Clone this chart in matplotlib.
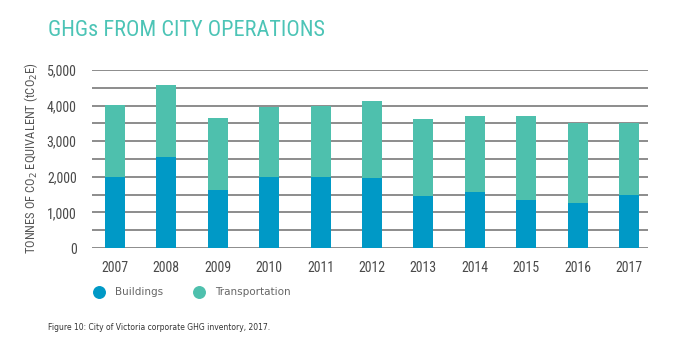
import matplotlib
matplotlib.use("Agg")
import matplotlib.pyplot as plt
from matplotlib.lines import Line2D
from matplotlib import font_manager

years = ["2007", "2008", "2009", "2010", "2011", "2012", "2013", "2014", "2015", "2016", "2017"]
buildings = [2000, 2560, 1630, 2000, 2000, 1970, 1460, 1570, 1350, 1260, 1490]
totals = [4020, 4580, 3650, 3960, 4000, 4130, 3620, 3710, 3710, 3510, 3510]
transportation = [t - b for t, b in zip(totals, buildings)]
yticks = [0, 1000, 2000, 3000, 4000, 5000]

c_build = "#0099c6"
c_trans = "#4ec0ad"

names = {f.name for f in font_manager.fontManager.ttflist}
cond = "Roboto"
for cand in ["Roboto Condensed", "Liberation Sans Narrow", "DejaVu Sans Condensed", "Open Sans Condensed"]:
    if cand in names:
        cond = cand
        break
is_cond = cond != "Roboto"

fig = plt.figure(figsize=(6.81, 3.46), dpi=100)
ax = fig.add_axes([0.135, 0.283, 0.8165, 0.515])

x = list(range(len(years)))
ax.bar(x, buildings, width=0.39, color=c_build, zorder=3)
ax.bar(x, transportation, bottom=buildings, width=0.39, color=c_trans, zorder=3)

ax.set_ylim(0, 5000)
ax.set_xlim(-0.447, 10.37)
for v in range(0, 5001, 500):
    ax.axhline(v, color="#6e6e6e", lw=1.1, zorder=1)

tfs = 10 if is_cond else 8.5
ax.set_yticks(yticks)
ax.set_yticklabels([f"{v:,}" for v in yticks], fontfamily=cond, fontsize=tfs, color="#4a4a4a")
ax.set_xticks(x)
ax.set_xticklabels(years, fontfamily=cond, fontsize=tfs, color="#4a4a4a")
ax.tick_params(axis="y", length=0, pad=11)
ax.tick_params(axis="x", length=0, pad=9)
for s in ax.spines.values():
    s.set_visible(False)

fig.text(31/681, 1-158/346, "TONNES OF CO$_2$ EQUIVALENT (tCO$_2$E)", rotation=90, ha="center", va="center",
         fontfamily=cond, fontsize=(9 if is_cond else 7.3), color="#555555")

fig.text(48/681, 1-31/346, "GHGs FROM CITY OPERATIONS", fontfamily=cond, fontsize=(16 if is_cond else 13.5),
         color="#4cc4b6", ha="left", va="center")

ly = 1-292/346
fig.add_artist(Line2D([99/681], [ly], marker="o", markersize=8.3, color=c_build, transform=fig.transFigure, lw=0))
fig.text(115/681, ly, "Buildings", fontsize=7.5, color="#666666", va="center", ha="left")
fig.add_artist(Line2D([199/681], [ly], marker="o", markersize=8.3, color=c_trans, transform=fig.transFigure, lw=0))
fig.text(215/681, ly, "Transportation", fontsize=7.5, color="#666666", va="center", ha="left")

fig.text(48/681, 1-328/346, "Figure 10: City of Victoria corporate GHG inventory, 2017.", fontsize=5.5, color="#333333",
         va="center", ha="left")

fig.savefig("out.png", dpi=100)
